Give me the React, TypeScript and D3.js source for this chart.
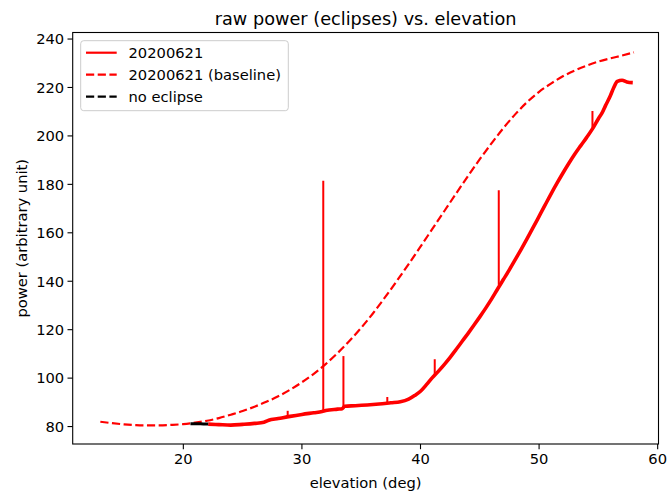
import React from "react";
import * as d3 from "d3";

// baseline (dashed) curve: elevation, power
const baselineX = [13, 14, 15, 16, 17, 18, 19, 20, 21, 22, 23, 24, 25, 26, 27, 28, 29, 30, 31, 32, 33, 34, 35, 36, 37, 38, 39, 40, 41, 42, 43, 44, 45, 46, 47, 48, 49, 50, 51, 52, 53, 54, 55, 56, 57, 58];
const baselineY = [82.0, 81.4, 80.9, 80.6, 80.5, 80.5, 80.7, 81.0, 81.6, 82.4, 83.5, 84.9, 86.4, 88.2, 90.2, 92.5, 95.2, 98.3, 101.8, 105.8, 110.3, 115.3, 120.8, 126.8, 133.3, 140.1, 147.1, 154.3, 161.6, 168.9, 176.2, 183.4, 190.4, 197.0, 203.3, 209.0, 214.0, 218.2, 221.6, 224.6, 227.0, 229.0, 230.7, 232.0, 233.2, 234.5];

// raw power (eclipse day): elevation, power
const rawX = [22.1, 23, 24, 25, 26, 26.8, 27.2, 28, 29, 30, 31, 31.7, 32, 33, 33.4, 33.6, 34.5, 35.5, 36.5, 37.5, 38.3, 39, 39.5, 40, 40.5, 41, 41.5, 42, 42.5, 43, 43.5, 44, 44.5, 45, 45.5, 46, 46.5, 47, 47.5, 48, 48.5, 49, 49.5, 50, 50.5, 51, 51.5, 52, 52.5, 53, 53.5, 54, 54.5, 55, 55.3, 55.6, 56, 56.3, 56.6, 57, 57.4, 57.9];
const rawY = [81.0, 80.8, 80.6, 80.9, 81.3, 81.8, 82.6, 83.3, 84.2, 85.0, 85.7, 86.2, 86.6, 87.2, 87.4, 88.4, 88.6, 88.9, 89.3, 89.8, 90.2, 91.3, 92.8, 94.6, 97.3, 100.2, 102.8, 105.6, 108.6, 111.8, 115.1, 118.4, 121.8, 125.3, 128.9, 132.7, 136.8, 140.8, 144.8, 149.0, 153.3, 157.7, 162.2, 166.8, 171.4, 176.0, 180.4, 184.6, 188.6, 192.4, 195.9, 199.3, 202.9, 207.1, 209.4, 212.5, 216.5, 220.0, 222.5, 223.0, 222.3, 222.0];

// spikes in raw power: elevation, base, peak
const spikeX = [28.8, 31.8, 33.5, 37.2, 41.2, 46.6, 54.5];
const spikeBase = [84.2, 86.3, 87.5, 89.6, 101.0, 138.5, 203.5];
const spikePeak = [86.5, 181.5, 109.1, 92.2, 107.8, 177.6, 210.3];

// no-eclipse reference
const noEclX = [20.6, 21.2, 21.7, 22.1];
const noEclY = [81.2, 81.2, 81.1, 81.1];

const xTicks = [20, 30, 40, 50, 60];
const yTicks = [80, 100, 120, 140, 160, 180, 200, 220, 240];

const legendLabels = ["20200621", "20200621 (baseline)", "no eclipse"];

const W = 669;
const H = 494;
const L = 72.7, R = 658.5, T = 32.5, B = 444;
const FONT = "DejaVu Sans, sans-serif";
const FS = 14.7;

export default function App() {
  const x = d3.scaleLinear().domain([10.67, 60.07]).range([L, R]);
  const y = d3.scaleLinear().domain([72.8, 242.7]).range([B, T]);

  const line = d3
    .line<[number, number]>()
    .x((d) => x(d[0]))
    .y((d) => y(d[1]))
    .curve(d3.curveMonotoneX);

  const basePts = baselineX.map((v, i) => [v, baselineY[i]] as [number, number]);
  const rawPts = rawX.map((v, i) => [v, rawY[i]] as [number, number]);
  const noPts = noEclX.map((v, i) => [v, noEclY[i]] as [number, number]);

  const dash = "8.2,3.5";

  return (
    <svg width={W} height={H} style={{ display: "block", position: "absolute", left: 0, top: 0 }} fontFamily={FONT}>
      <rect x={0} y={0} width={W} height={H} fill="#fff" />
      <defs>
        <clipPath id="clip">
          <rect x={L} y={T} width={R - L} height={B - T} />
        </clipPath>
      </defs>
      <g clipPath="url(#clip)">
        <path d={line(rawPts) || ""} fill="none" stroke="#ff0000" strokeWidth={3.6} strokeLinejoin="round" />
        {spikeX.map((sx, i) => (
          <line key={i} x1={x(sx)} x2={x(sx)} y1={y(spikeBase[i])} y2={y(spikePeak[i])} stroke="#ff0000" strokeWidth={2} />
        ))}
        <path d={line(basePts) || ""} fill="none" stroke="#ff0000" strokeWidth={2.2} strokeDasharray={dash} />
        <path d={line(noPts) || ""} fill="none" stroke="#000" strokeWidth={3} />
      </g>
      {/* spines */}
      <rect x={L} y={T} width={R - L} height={B - T} fill="none" stroke="#000" strokeWidth={1.1} />
      {xTicks.map((t) => (
        <g key={t}>
          <line x1={x(t)} x2={x(t)} y1={B} y2={B + 5.2} stroke="#000" strokeWidth={1.1} />
          <text x={x(t)} y={B + 19.5} textAnchor="middle" fontSize={FS} fill="#000">{t}</text>
        </g>
      ))}
      {yTicks.map((t) => (
        <g key={t}>
          <line x1={L - 5.2} x2={L} y1={y(t)} y2={y(t)} stroke="#000" strokeWidth={1.1} />
          <text x={L - 8.5} y={y(t)} dy="0.36em" textAnchor="end" fontSize={FS} fill="#000">{t}</text>
        </g>
      ))}
      <text x={(L + R) / 2} y={487.5} textAnchor="middle" fontSize={FS} fill="#000">elevation (deg)</text>
      <text transform={`translate(27,${(T + B) / 2}) rotate(-90)`} textAnchor="middle" fontSize={FS} fill="#000">power (arbitrary unit)</text>
      <text x={(L + R) / 2} y={24.5} textAnchor="middle" fontSize={17.7} fill="#000">raw power (eclipses) vs. elevation</text>
      {/* legend */}
      <rect x={80.7} y={40.7} width={207.6} height={70} rx={3} fill="#fff" fillOpacity={0.8} stroke="#cccccc" strokeWidth={1} />
      {legendLabels.map((lab, i) => {
        const ly = 52.7 + i * 22;
        const col = i === 2 ? "#000" : "#ff0000";
        return (
          <g key={lab}>
            <line x1={86} x2={116.7} y1={ly} y2={ly} stroke={col} strokeWidth={2.2} strokeDasharray={i === 0 ? undefined : dash} />
            <text x={128.5} y={ly} dy="0.36em" fontSize={FS} fill="#000">{lab}</text>
          </g>
        );
      })}
    </svg>
  );
}
